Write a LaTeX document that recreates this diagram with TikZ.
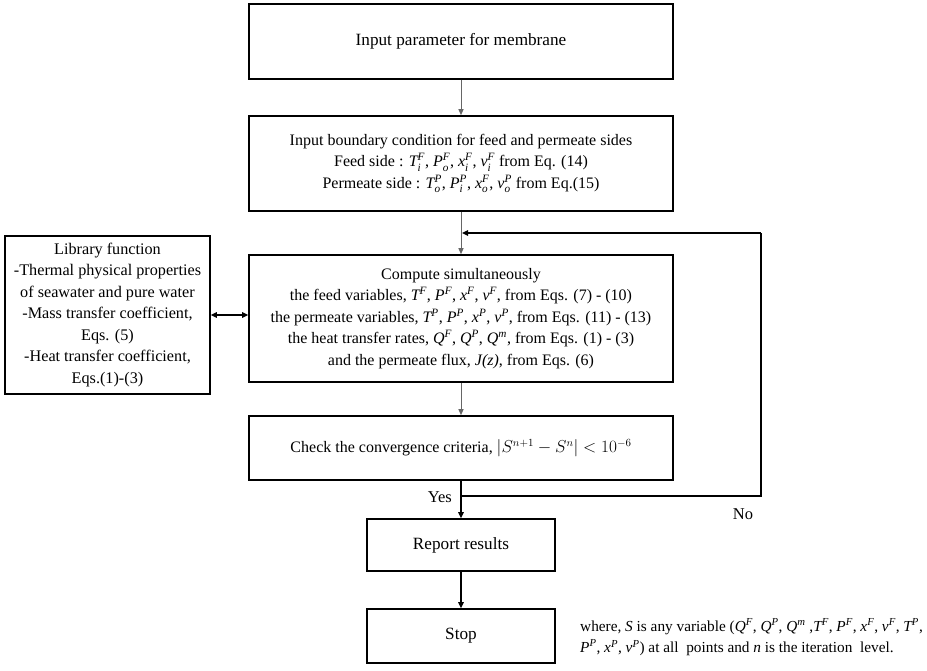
\documentclass[tikz,border=0pt]{standalone}
\usepackage{amsmath}
\usepackage{fontspec}
\setmainfont{Liberation Serif}
\usetikzlibrary{arrows.meta}
\newcommand\iv[1]{\textit{#1}}
\newcommand\vv[3]{$\iv{#1}_{\iv{#2}}^{\iv{#3}}$}
\newcommand\vs[2]{$\iv{#1}^{\iv{#2}}$}
\begin{document}
\begin{tikzpicture}[x=1pt,y=-1pt,
  box/.style={draw, line width=1.6pt, rectangle, inner sep=0pt, align=center,
    font=\fontsize{16}{21.5}\selectfont},
  bigtext/.style={font=\fontsize{17.2}{21.5}\selectfont},
  thinarrow/.style={draw=black!60, line width=1pt, -{Triangle[length=6pt,width=5pt]}},
  thickarrow/.style={draw=black, line width=1.8pt, -{Triangle[length=6pt,width=5.5pt]}},
  loopline/.style={draw=black, line width=1.6pt},
  dblarrow/.style={draw=black, line width=1.6pt, {Triangle[length=6pt,width=5.5pt]}-{Triangle[length=6pt,width=5.5pt]}},
  lbl/.style={inner sep=0pt, font=\fontsize{16.5}{21}\selectfont},
  note/.style={inner sep=0pt, align=left, font=\fontsize{15.3}{21.5}\selectfont}
]
\useasboundingbox[fill=white] (0,0) rectangle (927,670);

\node[box, bigtext, minimum width=424pt, minimum height=75pt] (b1) at (461,41.5)
  {Input parameter for membrane};
\node[box, minimum width=424pt, minimum height=95pt] (b2) at (461,163.5)
  {Input boundary condition for feed and permeate sides\\
   Feed side : \vv{T}{i}{F}, \vv{P}{o}{F}, \vv{x}{i}{F}, \vv{v}{i}{F} from Eq. (14)\\
   Permeate side : \vv{T}{o}{P}, \vv{P}{i}{P}, \vv{x}{o}{F}, \vv{v}{o}{P} from Eq.(15)};
\node[box, minimum width=424pt, minimum height=127pt] (b3) at (461,318.5)
  {Compute simultaneously\\
   the feed variables, \vs{T}{F}, \vs{P}{F}, \vs{x}{F}, \vs{v}{F}, from Eqs. (7) - (10)\\
   the permeate variables, \vs{T}{P}, \vs{P}{P}, \vs{x}{P}, \vs{v}{P}, from Eqs. (11) - (13)\\
   the heat transfer rates, \vs{Q}{F}, \vs{Q}{P}, \vs{Q}{m}, from Eqs. (1) - (3)\\
   and the permeate flux, \iv{J(z)}, from Eqs. (6)};
\node[box, minimum width=424pt, minimum height=64pt] (chk) at (461,448)
  {Check the convergence criteria, $|S^{n+1} - S^{n}| < 10^{-6}$};
\node[box, font=\fontsize{16.2}{21.5}\selectfont, minimum width=205pt, minimum height=158pt] (lib) at (107.5,315)
  {Library function\\
   -Thermal physical properties\\
   of seawater and pure water\\
   -Mass transfer coefficient,\\
   Eqs. (5)\\
   -Heat transfer coefficient,\\
   Eqs.(1)-(3)};
\node[box, bigtext, minimum width=188pt, minimum height=52pt] (rep) at (461,545) {Report results};
\node[box, bigtext, minimum width=188pt, minimum height=54pt] (stop) at (461,636) {Stop};

\node[note, anchor=west] (where) at (580,637)
  {where, \iv{S} is any variable (\vs{Q}{F}, \vs{Q}{P}, \vs{Q}{m} ,\vs{T}{F}, \vs{P}{F}, \vs{x}{F}, \vs{v}{F}, \vs{T}{P},\\
   \vs{P}{P}, \vs{x}{P}, \vs{v}{P}) at all\ \ points and \iv{n} is the iteration\ \ level.};

\coordinate (yj) at (461,496);
\coordinate (fj) at (461,233);
\coordinate (c1) at (761,496);
\coordinate (c2) at (761,233);

\node[lbl, anchor=east] (yes) at (452,497) {Yes};
\node[lbl] (no) at (743,514) {No};

\draw[thinarrow] (b1) -- (b2);
\draw[thinarrow] (b2) -- (b3);
\draw[thinarrow] (b3) -- (chk);
\draw[thickarrow] (chk) -- (rep);
\draw[thickarrow] (rep) -- (stop);
\draw[loopline] (yj) -- (c1) -- (c2);
\draw[thickarrow, line width=1.6pt] (c2) -- ([xshift=1pt]fj);
\draw[dblarrow] (lib.east) -- (lib.east -| b3.west);
\end{tikzpicture}
\end{document}
